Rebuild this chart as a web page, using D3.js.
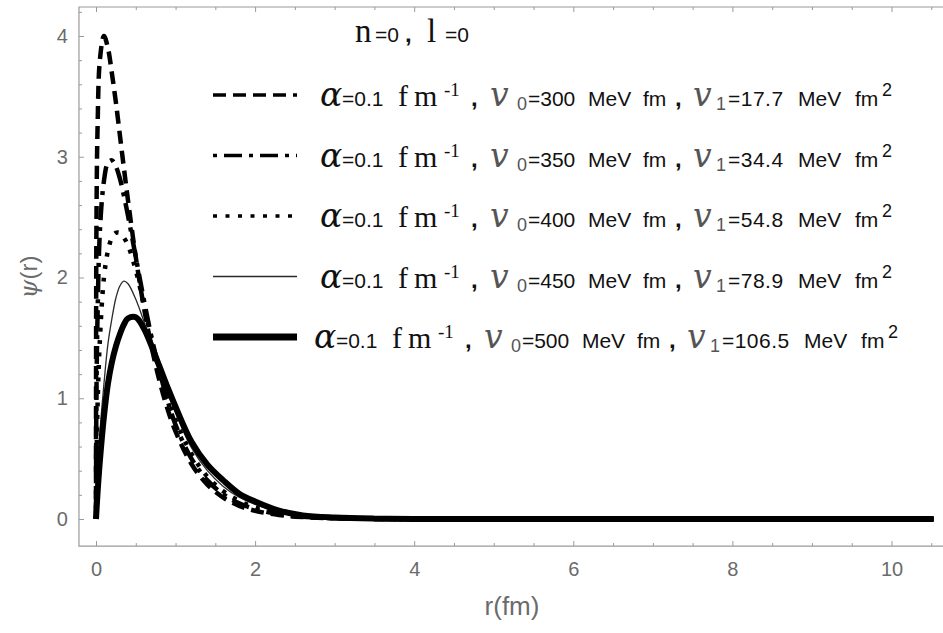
<!DOCTYPE html>
<html lang="en">
<head>
<meta charset="utf-8" />
<title>psi(r)</title>
<script src="https://cdnjs.cloudflare.com/ajax/libs/d3/7.8.5/d3.min.js"></script>
<style>
  body { margin: 0; background: #fff; }
  svg { display: block; font-family: 'Liberation Sans', Arial, sans-serif; }
</style>
</head>
<body>
<svg id="chart" width="943" height="633"></svg>
<script>
// r in fm, psi(r)
const rValues = [0, 0.005, 0.02, 0.05, 0.1, 0.15, 0.2, 0.25, 0.3, 0.35, 0.4, 0.5, 0.6, 0.7, 0.8, 0.9, 1.0,
  1.2, 1.4, 1.6, 1.8, 2.0, 2.3, 2.6, 3.0, 3.5, 4, 5, 6, 7, 8, 9, 10, 10.53];
const psi300 = [0, 2.37, 3.25, 3.81, 4.00, 3.90, 3.69, 3.45, 3.18, 2.91, 2.65, 2.17, 1.76, 1.42, 1.14, 0.91, 0.725,
  0.456, 0.285, 0.177, 0.109, 0.068, 0.033, 0.016, 0.006, 0.0015, 0, 0, 0, 0, 0, 0, 0, 0];
const psi350 = [0, 1.0, 1.7, 2.4, 2.8, 2.95, 2.97, 2.92, 2.82, 2.68, 2.52, 2.17, 1.82, 1.50, 1.22, 0.98, 0.78,
  0.50, 0.32, 0.205, 0.13, 0.083, 0.04, 0.018, 0.006, 0.0015, 0, 0, 0, 0, 0, 0, 0, 0];
const psi400 = [0, 0.4, 0.95, 1.5, 2.0, 2.22, 2.33, 2.37, 2.37, 2.33, 2.27, 2.06, 1.78, 1.48, 1.22, 1.0, 0.82,
  0.54, 0.35, 0.23, 0.15, 0.097, 0.05, 0.022, 0.008, 0.002, 0, 0, 0, 0, 0, 0, 0, 0];
const psi450 = [0, 0.1, 0.35, 0.72, 1.12, 1.45, 1.66, 1.83, 1.93, 1.97, 1.95, 1.82, 1.64, 1.44, 1.24, 1.05, 0.88,
  0.59, 0.40, 0.27, 0.18, 0.12, 0.06, 0.025, 0.009, 0.002, 0, 0, 0, 0, 0, 0, 0, 0];
const psi500 = [0, 0.06, 0.22, 0.49, 0.85, 1.12, 1.30, 1.43, 1.53, 1.61, 1.66, 1.67, 1.58, 1.43, 1.26, 1.09, 0.93,
  0.64, 0.45, 0.32, 0.21, 0.145, 0.07, 0.03, 0.012, 0.003, 0, 0, 0, 0, 0, 0, 0, 0];

const alphaValue = "0.1";
const v0Values = ["300", "350", "400", "450", "500"];
const v1Values = ["17.7", "34.4", "54.8", "78.9", "106.5"];
const xTicks = [0, 2, 4, 6, 8, 10];
const yTicks = [0, 1, 2, 3, 4];

// line styles, same order as the series
const styles = [
  {width: 4.5, legendWidth: 3.5, dash: "13,7", color: "#000"},
  {width: 4.5, legendWidth: 3.5, dash: "4,7,18,7", color: "#000"},
  {width: 4.5, legendWidth: 3.5, dash: "4,8.5", color: "#000"},
  {width: 1.3, legendWidth: 1.5, dash: null, color: "#2a2a2a"},
  {width: 6, legendWidth: 7, dash: null, color: "#000"}
];
const series = [psi300, psi350, psi400, psi450, psi500];

const svg = d3.select("#chart");
const x = d3.scaleLinear().domain([0, 10]).range([96, 891.5]);
const y = d3.scaleLinear().domain([0, 4]).range([519, 36]);

const frameLeft = x(-0.214), frameTop = y(4.24), frameBottom = y(-0.224), frameRight = 943;
const axisGray = "#9a9a9a", labelGray = "#6b6b6b";
const sansFont = "'Liberation Sans', Arial, sans-serif";
const serifFont = "'Liberation Serif', 'Times New Roman', serif";
const greekFont = "'DejaVu Serif', serif";

svg.append("clipPath").attr("id", "plotClip")
  .append("rect").attr("x", frameLeft).attr("y", frameTop)
  .attr("width", frameRight - frameLeft).attr("height", frameBottom - frameTop);

// ---------- curves ----------
const line = d3.line().x(d => x(d[0])).y(d => y(d[1])).curve(d3.curveCatmullRom.alpha(0.5));
const curves = svg.append("g").attr("clip-path", "url(#plotClip)");
series.forEach((psi, i) => {
  const st = styles[i];
  curves.append("path")
    .datum(rValues.map((r, k) => [r, psi[k]]))
    .attr("fill", "none")
    .attr("stroke", st.color)
    .attr("stroke-width", st.width)
    .attr("stroke-dasharray", st.dash)
    .attr("stroke-linejoin", "round")
    .attr("d", line);
});

// ---------- frame + ticks ----------
function styleAxis(g) {
  g.select(".domain").remove();
  g.selectAll(".tick line").attr("stroke", axisGray);
  g.selectAll(".tick text").attr("fill", labelGray)
    .style("font-size", "20px").style("font-family", sansFont);
}
const minorX = d3.range(0, 10.51, 0.5).filter(v => v % 2 !== 0);
const minorY = d3.range(0, 4.21, 0.2).filter(v => Math.abs(v - Math.round(v)) > 1e-6);

svg.append("g").attr("transform", `translate(0,${frameBottom})`)
  .call(d3.axisBottom(x).tickValues(xTicks).tickSize(-5).tickPadding(16).tickFormat(d3.format("d"))).call(styleAxis);
svg.append("g").attr("transform", `translate(0,${frameBottom})`)
  .call(d3.axisBottom(x).tickValues(minorX).tickSize(-3).tickFormat("")).call(styleAxis);
svg.append("g").attr("transform", `translate(0,${frameTop})`)
  .call(d3.axisTop(x).tickValues(xTicks).tickSize(-5).tickFormat("")).call(styleAxis);
svg.append("g").attr("transform", `translate(0,${frameTop})`)
  .call(d3.axisTop(x).tickValues(minorX).tickSize(-3).tickFormat("")).call(styleAxis);
svg.append("g").attr("transform", `translate(${frameLeft},0)`)
  .call(d3.axisLeft(y).tickValues(yTicks).tickSize(-5).tickPadding(11).tickFormat(d3.format("d"))).call(styleAxis);
svg.append("g").attr("transform", `translate(${frameLeft},0)`)
  .call(d3.axisLeft(y).tickValues(minorY).tickSize(-3).tickFormat("")).call(styleAxis);

svg.append("path")
  .attr("d", `M${frameRight},${frameTop}H${frameLeft}V${frameBottom}H${frameRight}`)
  .attr("fill", "none").attr("stroke", axisGray).attr("stroke-width", 1.2);

// axis labels
const yLab = svg.append("text")
  .attr("transform", "translate(37,277) rotate(-90)")
  .attr("text-anchor", "middle").attr("fill", labelGray).style("font-size", "24px");
yLab.append("tspan").style("font-family", greekFont).style("font-style", "italic").text("ψ");
yLab.append("tspan").style("font-family", sansFont).text("(r)");

svg.append("text").attr("x", 512).attr("y", 615).attr("text-anchor", "middle")
  .attr("fill", labelGray).style("font-size", "26px").style("font-family", sansFont).text("r(fm)");

// ---------- title ----------
const title = [
  {t: "n", x: 355, font: serifFont, size: 33},
  {t: "=0", x: 375, size: 21},
  {t: ",", x: 405, size: 24, weight: "bold"},
  {t: "l", x: 427, font: serifFont, size: 33},
  {t: "=0", x: 445, size: 21}
];
const titleG = svg.append("g");
title.forEach(s => {
  titleG.append("text").attr("x", s.x).attr("y", 42)
    .style("font-family", s.font || sansFont).style("font-size", s.size + "px")
    .style("font-weight", s.weight || "normal").attr("fill", "#111").text(s.t);
});

// ---------- legend ----------
const legendX0 = 213, legendX1 = 297, legendY0 = 95, legendStep = 60.5;
const legend = svg.append("g");
v0Values.forEach((v0, i) => {
  const ly = legendY0 + i * legendStep, base = ly + 11;
  const st = styles[i];
  legend.append("line")
    .attr("x1", legendX0).attr("x2", legendX1).attr("y1", ly).attr("y2", ly)
    .attr("stroke", st.color).attr("stroke-width", st.legendWidth)
    .attr("stroke-dasharray", st.dash);

  const segs = [
    {t: "α", x: 320, font: greekFont, style: "italic", size: 33},
    {t: "=" + alphaValue, x: 342, size: 21},
    {t: "fm", x: 398, font: serifFont, size: 30, ls: 6},
    {t: "-1", x: 444, font: serifFont, size: 19, shift: -10},
    {t: ",", x: 471, size: 24, weight: "bold"},
    {t: "v", x: 490, font: greekFont, style: "italic", size: 33, fill: "#555"},
    {t: "0", x: 517, size: 18, shift: 4, fill: "#555"},
    {t: "=" + v0, x: 528, size: 21},
    {t: "MeV", x: 588, size: 21},
    {t: "fm", x: 643, size: 21},
    {t: ",", x: 675, size: 24, weight: "bold"},
    {t: "v", x: 693, font: greekFont, style: "italic", size: 33, fill: "#555"},
    {t: "1", x: 716, size: 18, shift: 4, fill: "#555"},
    {t: "=" + v1Values[i], x: 728, size: 21, ls: 0.5},
    {t: "MeV", x: 798, size: 21, after: true},
    {t: "fm", x: 855, size: 21, after: true},
    {t: "2", x: 882, size: 18, shift: -10, after: true}
  ];
  const nodes = segs.map(s => legend.append("text")
    .attr("y", base + (s.shift || 0))
    .style("font-family", s.font || sansFont).style("font-size", s.size + "px")
    .style("font-style", s.style || "normal").style("font-weight", s.weight || "normal")
    .style("letter-spacing", (s.ls || 0) + "px")
    .attr("fill", s.fill || "#111").text(s.t));

  // keep the row centred like the original when the value text is longer
  const refNode = legend.append("text").style("font-family", sansFont).style("font-size", "21px")
    .style("letter-spacing", "0.5px").text("=" + v1Values[0]);
  const shift = (nodes[13].node().getComputedTextLength() - refNode.node().getComputedTextLength()) / 2;
  refNode.remove();
  segs.forEach((s, k) => nodes[k].attr("x", s.after ? s.x + shift : s.x - shift));
});
</script>
</body>
</html>
